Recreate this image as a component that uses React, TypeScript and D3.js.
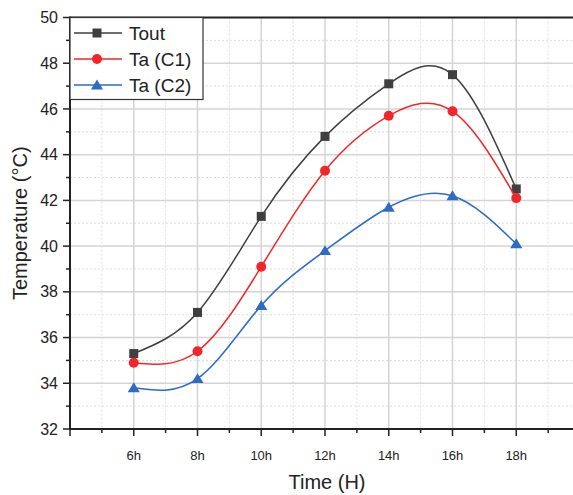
import React from "react";
import * as d3 from "d3";

const hours = [6, 8, 10, 12, 14, 16, 18];
const tickLabels = ["6h", "8h", "10h", "12h", "14h", "16h", "18h"];
const tout = [35.3, 37.1, 41.3, 44.8, 47.1, 47.5, 42.5];
const taC1 = [34.9, 35.4, 39.1, 43.3, 45.7, 45.9, 42.1];
const taC2 = [33.8, 34.2, 37.4, 39.8, 41.7, 42.2, 40.1];
const yTicks = [32, 34, 36, 38, 40, 42, 44, 46, 48, 50];
const seriesNames = ["Tout", "Ta (C1)", "Ta (C2)"];

const W = 573, H = 495;
const left = 70, top = 17.5, bottom = 429, right = 580;

export default function App() {
  const x = d3.scaleLinear().domain([4, 20]).range([left, right]);
  const y = d3.scaleLinear().domain([32, 50]).range([bottom, top]);
  const series = [
    { name: seriesNames[0], values: tout, color: "#3f3f3f", shape: "square" },
    { name: seriesNames[1], values: taC1, color: "#f2262a", shape: "circle" },
    { name: seriesNames[2], values: taC2, color: "#2c6cc4", shape: "triangle" },
  ];
  const line = d3.line<[number, number]>().x(d => x(d[0])).y(d => y(d[1])).curve(d3.curveNatural);
  const minorX = d3.range(5, 20, 1).filter(h => h % 2 === 1);
  const majorX = d3.range(4, 21, 2);
  const minorY = d3.range(33, 50, 2);
  const font = "Liberation Sans, Arial, sans-serif";

  const marker = (shape: string, cx: number, cy: number, color: string, key: string) => {
    if (shape === "square") return <rect key={key} x={cx - 4.5} y={cy - 4.5} width={9} height={9} fill={color} />;
    if (shape === "circle") return <circle key={key} cx={cx} cy={cy} r={5} fill={color} />;
    const s = 5.5;
    return <path key={key} d={`M${cx},${cy - s}L${cx + s * 1.1},${cy + s * 0.8}L${cx - s * 1.1},${cy + s * 0.8}Z`} fill={color} />;
  };

  return (
    <svg width={W} height={H} style={{ position: "absolute", left: 0, top: 0, background: "#fff" }} fontFamily={font}>
      {/* grid */}
      {minorX.map(h => (
        <line key={"gmx" + h} x1={x(h)} x2={x(h)} y1={top} y2={bottom} stroke="#dcdcdc" strokeDasharray="2,2" strokeWidth={1} />
      ))}
      {minorY.map(v => (
        <line key={"gmy" + v} x1={left} x2={W} y1={y(v)} y2={y(v)} stroke="#dcdcdc" strokeDasharray="2,2" strokeWidth={1} />
      ))}
      {majorX.filter(h => h > 4).map(h => (
        <line key={"gx" + h} x1={x(h)} x2={x(h)} y1={top} y2={bottom} stroke="#d4d4d4" strokeWidth={1.5} />
      ))}
      {yTicks.filter(v => v > 32 && v < 50).map(v => (
        <line key={"gy" + v} x1={left} x2={W} y1={y(v)} y2={y(v)} stroke="#d4d4d4" strokeWidth={1.5} />
      ))}
      {/* series */}
      {series.map(s => {
        const pts = hours.map((h, i) => [h, s.values[i]] as [number, number]);
        return (
          <g key={s.name}>
            <path d={line(pts) || ""} fill="none" stroke={s.color} strokeWidth={1.5} />
            {pts.map((p, i) => marker(s.shape, x(p[0]), y(p[1]), s.color, s.name + i))}
          </g>
        );
      })}
      {/* axes */}
      <line x1={left} x2={W} y1={top} y2={top} stroke="#222" strokeWidth={2} />
      <line x1={left} x2={left} y1={top - 1} y2={bottom + 1} stroke="#222" strokeWidth={2} />
      <line x1={left - 1} x2={W} y1={bottom} y2={bottom} stroke="#222" strokeWidth={2} />
      {yTicks.map(v => (
        <g key={"yt" + v}>
          <line x1={left - 7} x2={left} y1={y(v)} y2={y(v)} stroke="#222" strokeWidth={1.5} />
          <text x={left - 12} y={y(v)} dy="0.35em" textAnchor="end" fontSize={16} fill="#222">{v}</text>
        </g>
      ))}
      {minorY.map(v => (
        <line key={"ymt" + v} x1={left - 4} x2={left} y1={y(v)} y2={y(v)} stroke="#222" strokeWidth={1.5} />
      ))}
      {majorX.map(h => (
        <line key={"xt" + h} x1={x(h)} x2={x(h)} y1={bottom} y2={bottom + 7} stroke="#222" strokeWidth={1.5} />
      ))}
      {minorX.map(h => (
        <line key={"xmt" + h} x1={x(h)} x2={x(h)} y1={bottom} y2={bottom + 4} stroke="#222" strokeWidth={1.5} />
      ))}
      {hours.map((h, i) => (
        <text key={"xl" + h} x={x(h)} y={460} textAnchor="middle" fontSize={13} fill="#222">{tickLabels[i]}</text>
      ))}
      <text x={327} y={489} textAnchor="middle" fontSize={20} fill="#222">Time (H)</text>
      <text transform={`translate(27,${(top + bottom) / 2}) rotate(-90)`} textAnchor="middle" fontSize={20} fill="#222">Temperature (°C)</text>
      {/* legend */}
      <rect x={left} y={top} width={133} height={82} fill="#fff" stroke="#333" strokeWidth={1.2} />
      {series.map((s, i) => {
        const ly = 33 + i * 26;
        return (
          <g key={"lg" + s.name}>
            <line x1={74} x2={122} y1={ly} y2={ly} stroke={s.color} strokeWidth={1.5} />
            {marker(s.shape, 97, ly, s.color, "lm" + i)}
            <text x={129} y={ly} dy="0.35em" fontSize={19} fill="#222">{s.name}</text>
          </g>
        );
      })}
    </svg>
  );
}
